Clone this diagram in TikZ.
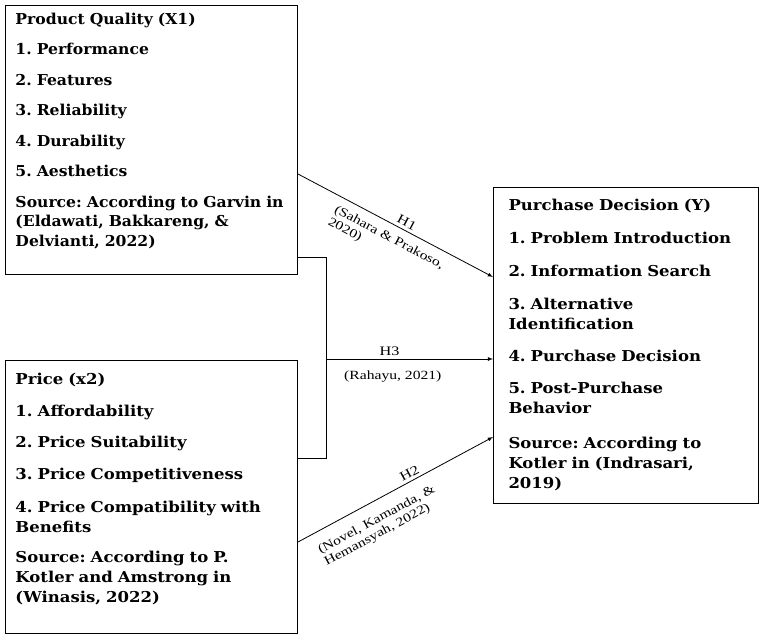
\documentclass[tikz,border=0pt]{standalone}
\usepackage{fontspec}
\setmainfont{Liberation Serif}
\newfontfamily\boxfont{DejaVu Serif}[FakeStretch=1.04]
\newfontfamily\wideboxfont{DejaVu Serif}[FakeStretch=1.1]
\newfontfamily\labelfont{Liberation Serif}[FakeStretch=1.25]
\usetikzlibrary{calc, arrows.meta}
\tikzset{>=latex}
\tikzset{
  varbox/.style={draw, line width=1pt, align=left, anchor=north west,
    inner xsep=10pt, inner ysep=0pt,
    font=\boxfont\bfseries\frenchspacing\fontsize{15}{19.5}\selectfont},
  widebox/.style={varbox, font=\wideboxfont\bfseries\frenchspacing\fontsize{15}{20}\selectfont},
  hyp/.style={font=\labelfont\fontsize{13}{14}\selectfont, sloped, inner sep=3pt},
  cite/.style={font=\labelfont\fontsize{12.5}{13.5}\selectfont, sloped, align=left, inner sep=1pt}
}

\begin{document}
\begin{tikzpicture}[x=1pt, y=-1pt]
\useasboundingbox (0,0) rectangle (760,634);
\node[varbox, text width=272pt, text height=19pt, text depth=250pt] (qual) at (5,5)
  {Product Quality (X1)\\[11pt]
   1. Performance\\[11pt]
   2. Features\\[11pt]
   3. Reliability\\[11pt]
   4. Durability\\[11pt]
   5. Aesthetics\\[11pt]
   Source: According to Garvin in\\
   (Eldawati, Bakkareng, \&\\
   Delvianti, 2022)};
\node[widebox, text width=272pt, text height=24pt, text depth=249pt] (price) at (5,360)
  {Price (x2)\\[11.5pt]
   1. Affordability\\[11.5pt]
   2. Price Suitability\\[11.5pt]
   3. Price Competitiveness\\[13.5pt]
   4. Price Compatibility with\\
   Benefits\\[10pt]
   Source: According to P.\\
   Kotler and Amstrong in\\
   (Winasis, 2022)};
\node[widebox, text width=235pt, inner xsep=15pt, text height=23pt, text depth=293pt] (decision) at (493,187)
  {Purchase Decision (Y)\\[13pt]
   1. Problem Introduction\\[13pt]
   2. Information Search\\[13pt]
   3. Alternative\\
   Identification\\[12pt]
   4. Purchase Decision\\[12pt]
   5. Post-Purchase\\
   Behavior\\[15pt]
   Source: According to\\
   Kotler in (Indrasari,\\
   2019)};

\coordinate (jtop) at (326,257);
\coordinate (jmid) at (326,359);
\coordinate (jbot) at (326,458);
\draw[line width=0.8pt] (qual.east |- jtop) -- (jtop) -- (jbot) -- (price.east |- jbot);

\draw[->, line width=0.8pt] (qual.east |- 0,174) -- node[hyp, above, pos=0.54]{H1}
  node[cite, below=7pt, pos=0.5]{(Sahara \& Prakoso,\\2020)} (decision.west |- 0,277);
\draw[->, line width=0.8pt] (jmid) -- node[hyp, above, pos=0.38]{H3}
  node[cite, below=10pt, pos=0.4]{(Rahayu, 2021)} (decision.west |- jmid);
\draw[->, line width=0.8pt] (price.east |- 0,542) -- node[hyp, above, pos=0.59]{H2}
  node[cite, below=11pt, pos=0.36]{(Novel, Kamanda, \&\\Hemansyah, 2022)} (decision.west |- 0,437);
\end{tikzpicture}
\end{document}
